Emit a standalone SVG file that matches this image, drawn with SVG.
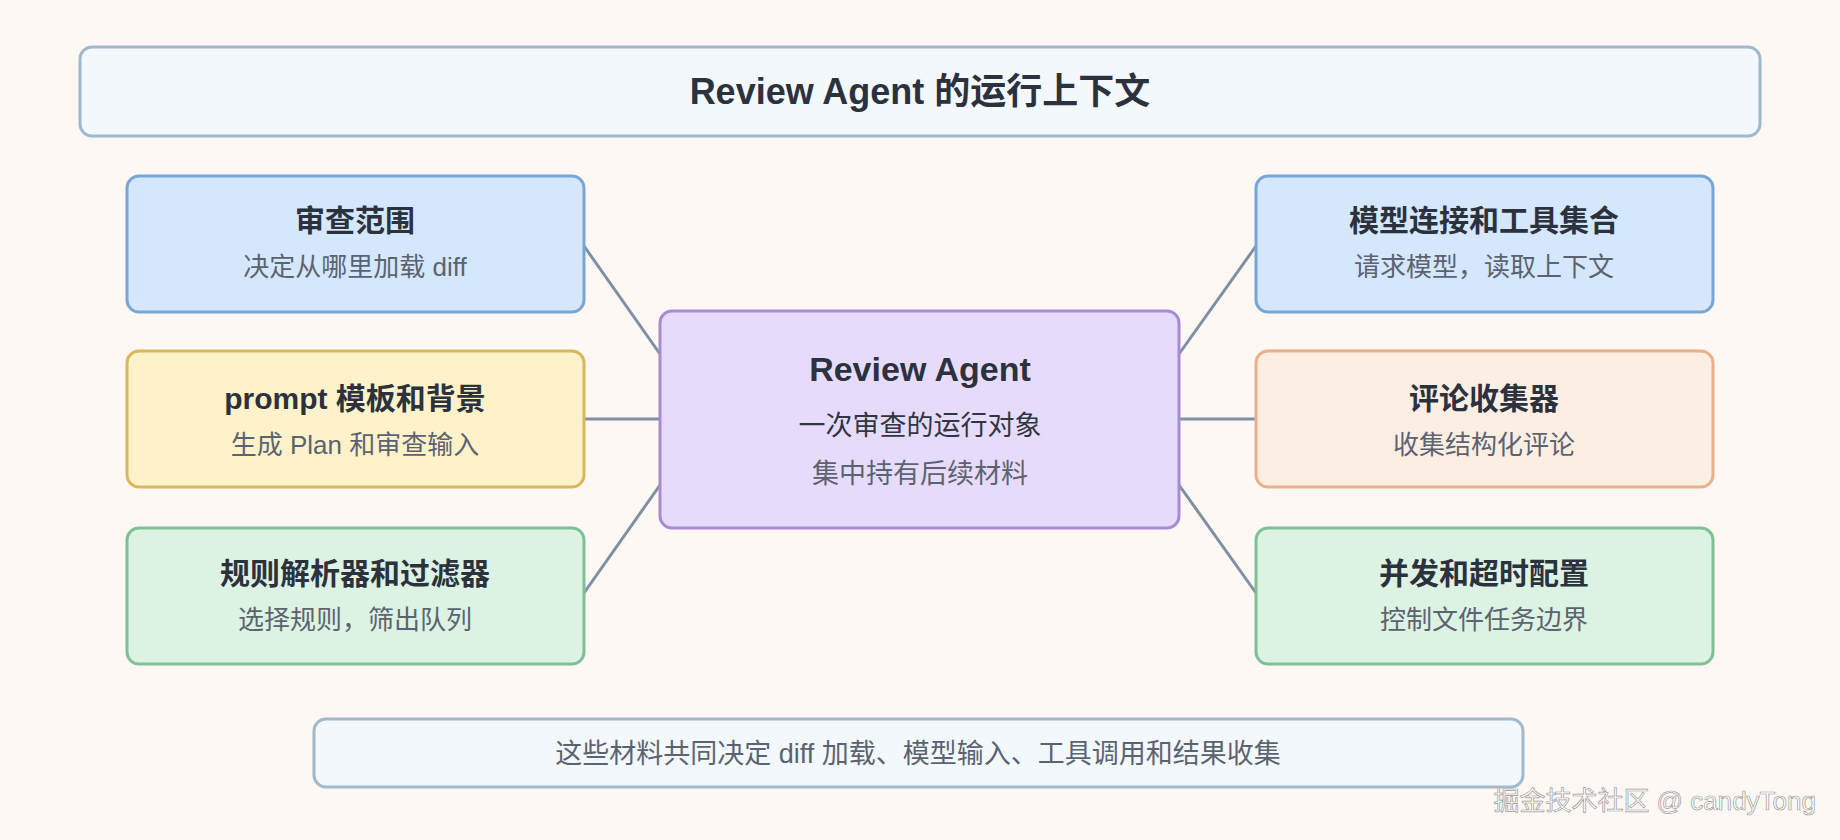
<svg xmlns="http://www.w3.org/2000/svg" width="1840" height="840" viewBox="0 0 1840 840">
<style>
.t{font-family:"Liberation Sans","Noto Sans CJK SC",sans-serif;text-anchor:middle}
.h{font-weight:bold;font-size:30px;fill:#2b323d}
.s{font-size:26px;fill:#5c6370}
.box{stroke-width:3}
.blue{fill:#d4e7fc;stroke:#78a6d6}
.yel{fill:#fdf2c9;stroke:#d8b85a}
.grn{fill:#dcf2e2;stroke:#7dc195}
.org{fill:#fdeee4;stroke:#eab08a}
.pur{fill:#e7dbfb;stroke:#a98ad4}
.gry{fill:#f3f8fc;stroke:#a2b8cd}
.c{stroke:#8090a4;stroke-width:3;fill:none}
</style>
<rect width="1840" height="840" fill="#fdf8f3"/>
<g id="title"><rect class="box gry" x="80" y="47" width="1680" height="89" rx="12"/><text class="t h" x="920" y="104" style="font-size:36px">Review Agent 的运行上下文</text></g>
<g id="connectors">
<line class="c" x1="584" y1="246" x2="660" y2="354"/>
<line class="c" x1="584" y1="419" x2="660" y2="419"/>
<line class="c" x1="584" y1="593" x2="660" y2="485"/>
<line class="c" x1="1179" y1="354" x2="1256" y2="246"/>
<line class="c" x1="1179" y1="419" x2="1256" y2="419"/>
<line class="c" x1="1179" y1="485" x2="1256" y2="593"/>
</g>
<g id="n1"><rect class="box blue" x="127" y="176" width="457" height="136" rx="12"/><text class="t h" x="355" y="231">审查范围</text><text class="t s" x="355" y="276">决定从哪里加载 diff</text></g>
<g id="n2"><rect class="box yel" x="127" y="351" width="457" height="136" rx="12"/><text class="t h" x="355" y="409">prompt 模板和背景</text><text class="t s" x="355" y="454">生成 Plan 和审查输入</text></g>
<g id="n3"><rect class="box grn" x="127" y="528" width="457" height="136" rx="12"/><text class="t h" x="355" y="584">规则解析器和过滤器</text><text class="t s" x="355" y="629">选择规则，筛出队列</text></g>
<g id="center"><rect class="box pur" x="660" y="311" width="519" height="217" rx="12"/><text class="t h" x="920" y="381" style="font-size:34px">Review Agent</text><text class="t s" x="920" y="435" style="font-size:27px;fill:#2f3640">一次审查的运行对象</text><text class="t s" x="920" y="483" style="font-size:27px">集中持有后续材料</text></g>
<g id="n4"><rect class="box blue" x="1256" y="176" width="457" height="136" rx="12"/><text class="t h" x="1484" y="231">模型连接和工具集合</text><text class="t s" x="1484" y="276">请求模型，读取上下文</text></g>
<g id="n5"><rect class="box org" x="1256" y="351" width="457" height="136" rx="12"/><text class="t h" x="1484" y="409">评论收集器</text><text class="t s" x="1484" y="454">收集结构化评论</text></g>
<g id="n6"><rect class="box grn" x="1256" y="528" width="457" height="136" rx="12"/><text class="t h" x="1484" y="584">并发和超时配置</text><text class="t s" x="1484" y="629">控制文件任务边界</text></g>
<g id="note"><rect class="box gry" x="314" y="719" width="1209" height="68" rx="12"/><text class="t s" x="918" y="763" style="font-size:27px">这些材料共同决定 diff 加载、模型输入、工具调用和结果收集</text></g>
<text class="t" x="1816" y="810" style="text-anchor:end;font-size:26px;fill:#ffffff;stroke:#9a9a9a;stroke-width:0.7">掘金技术社区 @ candyTong</text>
</svg>
